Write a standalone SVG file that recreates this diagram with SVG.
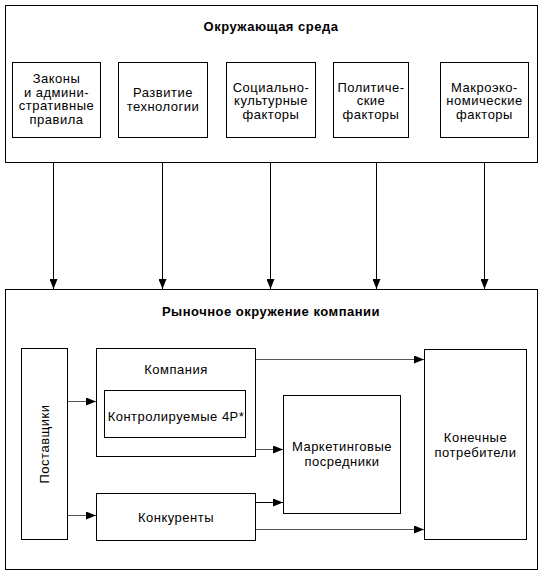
<svg xmlns="http://www.w3.org/2000/svg" width="543" height="573" viewBox="0 0 543 573">
<defs>
<marker id="ah" markerWidth="10" markerHeight="8" refX="10" refY="4" orient="auto" markerUnits="userSpaceOnUse">
<path d="M0,0 L10,4 L0,8 Z" fill="#000"/>
</marker>
</defs>
<style>
.box{fill:#fff;stroke:#000;stroke-width:1}
.t{font-family:"Liberation Sans",Arial,sans-serif;font-size:13px;letter-spacing:0.5px;fill:#000;text-anchor:middle}
.b{font-weight:bold}
.c{fill:none;stroke:#000;stroke-width:1}
.g{fill:none;stroke:#555;stroke-width:1}
</style>
<rect width="543" height="573" fill="#fff"/>
<g id="env">
<rect class="box" x="5.5" y="5.5" width="532" height="157"/>
<text class="t b" x="271" y="31">Окружающая среда</text>
</g>
<g id="laws">
<rect class="box" x="12.5" y="62.5" width="88" height="75"/>
<text class="t" x="56.5" y="83">Законы</text>
<text class="t" x="56.5" y="96.5">и админи-</text>
<text class="t" x="56.5" y="110">стративные</text>
<text class="t" x="56.5" y="123.5">правила</text>
</g>
<g id="tech">
<rect class="box" x="118.5" y="62.5" width="89" height="75"/>
<text class="t" x="163" y="97">Развитие</text>
<text class="t" x="163" y="110.5">технологии</text>
</g>
<g id="social">
<rect class="box" x="226.5" y="62.5" width="89" height="75"/>
<text class="t" x="271" y="91.5">Социально-</text>
<text class="t" x="271" y="105">культурные</text>
<text class="t" x="271" y="118.5">факторы</text>
</g>
<g id="political">
<rect class="box" x="333.5" y="62.5" width="75" height="75"/>
<text class="t" x="371" y="91.5">Политиче-</text>
<text class="t" x="371" y="105">ские</text>
<text class="t" x="371" y="118.5">факторы</text>
</g>
<g id="macro">
<rect class="box" x="440.5" y="62.5" width="88" height="75"/>
<text class="t" x="484.5" y="91.5">Макроэко-</text>
<text class="t" x="484.5" y="105">номические</text>
<text class="t" x="484.5" y="118.5">факторы</text>
</g>
<g id="market">
<rect class="box" x="5.5" y="289.5" width="532" height="280"/>
<text class="t b" x="271" y="316">Рыночное окружение компании</text>
</g>
<g id="suppliers">
<rect class="box" x="21.5" y="348.5" width="46" height="191"/>
<text class="t" x="0" y="0" transform="translate(49,444) rotate(-90)">Поставщики</text>
</g>
<g id="company">
<rect class="box" x="96.5" y="348.5" width="159" height="108"/>
<text class="t" x="176" y="374">Компания</text>
</g>
<g id="controlled">
<rect class="box" x="104.5" y="390.5" width="141" height="47"/>
<text class="t" x="176" y="421">Контролируемые 4P*</text>
</g>
<g id="competitors">
<rect class="box" x="96.5" y="493.5" width="159" height="47"/>
<text class="t" x="176" y="522">Конкуренты</text>
</g>
<g id="intermediaries">
<rect class="box" x="283.5" y="395.5" width="117" height="118"/>
<text class="t" x="342" y="451">Маркетинговые</text>
<text class="t" x="342" y="466">посредники</text>
</g>
<g id="consumers">
<rect class="box" x="424.5" y="349.5" width="102" height="190"/>
<text class="t" x="475.5" y="442">Конечные</text>
<text class="t" x="475.5" y="457">потребители</text>
</g>
<g id="connectors">
<line class="c" x1="53.5" y1="163" x2="53.5" y2="289" marker-end="url(#ah)"/>
<line class="c" x1="162.5" y1="163" x2="162.5" y2="289" marker-end="url(#ah)"/>
<line class="c" x1="270.5" y1="163" x2="270.5" y2="289" marker-end="url(#ah)"/>
<line class="c" x1="376.5" y1="163" x2="376.5" y2="289" marker-end="url(#ah)"/>
<line class="c" x1="484.5" y1="163" x2="484.5" y2="289" marker-end="url(#ah)"/>
<line class="g" x1="68" y1="401.5" x2="96" y2="401.5" marker-end="url(#ah)"/>
<line class="g" x1="68" y1="515.5" x2="96" y2="515.5" marker-end="url(#ah)"/>
<line class="g" x1="256" y1="359.5" x2="424" y2="359.5" marker-end="url(#ah)"/>
<line class="g" x1="256" y1="449.5" x2="283" y2="449.5" marker-end="url(#ah)"/>
<line class="c" x1="256" y1="502.5" x2="283" y2="502.5" marker-end="url(#ah)"/>
<line class="g" x1="256" y1="529.5" x2="424" y2="529.5" marker-end="url(#ah)"/>
</g>
</svg>
